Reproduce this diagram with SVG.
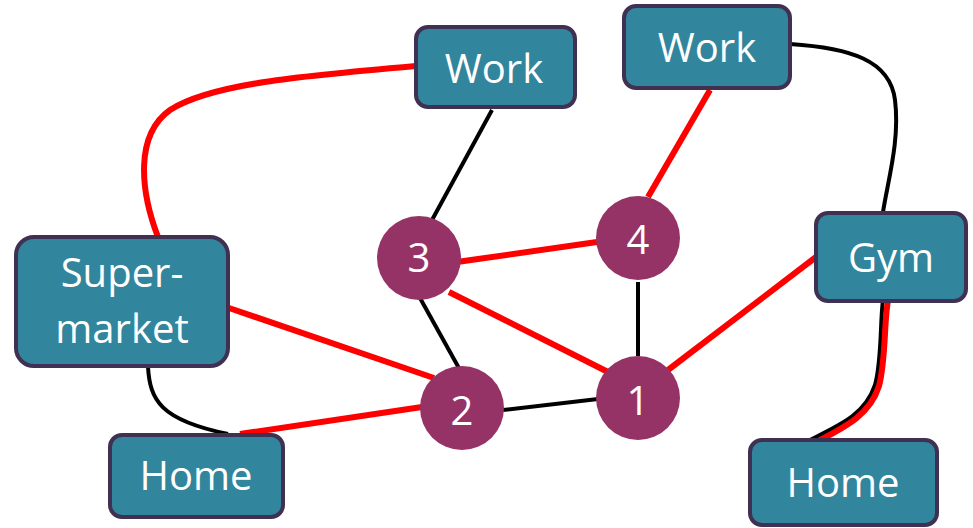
<svg xmlns="http://www.w3.org/2000/svg" width="973" height="528" viewBox="0 0 973 528">
<style>
.box{fill:#31859C;stroke:#403152;stroke-width:4}
.c{fill:#963366}
.t{fill:#fff;font-family:"Open Sans","Noto Sans",sans-serif;font-size:40px;text-anchor:middle}
.r{stroke:#ff0000;stroke-width:6;fill:none}
.k{stroke:#000;stroke-width:4;fill:none}
</style>
<rect width="973" height="528" fill="#fff"/>
<g id="connectors">
<path class="r" d="M416,66 C300,76 210,84 170,110 C135,135 140,190 158,237"/>
<path class="k" d="M492,110 L432,220"/>
<path class="r" d="M710,90 L648,197"/>
<path class="k" d="M790,44 C850,48 890,60 895,100 C900,140 888,180 883,212"/>
<path class="r" d="M457,262 L597,242"/>
<path class="r" d="M449,292 L612,374"/>
<path class="k" d="M638,282 L638,356"/>
<path class="k" d="M420,298 L460,370"/>
<path class="r" d="M229,308 L434,378"/>
<path class="r" d="M240,434 L422,407"/>
<path class="k" d="M148,367 C150,400 160,420 228,434"/>
<path class="k" d="M503,410 L598,399"/>
<path class="r" d="M668,370 L816,257"/>
<path class="k" d="M883,300 C880,320 882,360 875,385 C865,415 840,425 806,442"/>
<path class="r" d="M888,301 C884,320 886,360 879,386 C869,417 843,428 809,446"/>
</g>
<g id="work1"><rect class="box" x="416" y="27" width="159" height="80" rx="12"/><text class="t" x="494" y="83">Work</text></g>
<g id="work2"><rect class="box" x="624" y="6" width="166" height="82" rx="12"/><text class="t" x="707" y="62">Work</text></g>
<g id="supermarket"><rect class="box" x="16" y="237" width="212" height="129" rx="18"/><text class="t" x="122" y="287">Super-</text><text class="t" x="122" y="343">market</text></g>
<g id="home1"><rect class="box" x="110" y="435" width="173" height="82" rx="12"/><text class="t" x="196" y="490">Home</text></g>
<g id="gym"><rect class="box" x="816" y="213" width="150" height="88" rx="12"/><text class="t" x="891" y="272">Gym</text></g>
<g id="home2"><rect class="box" x="750" y="440" width="187" height="85" rx="12"/><text class="t" x="843" y="497">Home</text></g>
<g id="n3"><circle class="c" cx="419" cy="258" r="42"/><text class="t" x="419" y="272">3</text></g>
<g id="n4"><circle class="c" cx="638" cy="238" r="42"/><text class="t" x="638" y="254">4</text></g>
<g id="n1"><circle class="c" cx="638" cy="398" r="42"/><text class="t" x="638" y="415">1</text></g>
<g id="n2"><circle class="c" cx="462" cy="408" r="42"/><text class="t" x="462" y="425">2</text></g>
</svg>
